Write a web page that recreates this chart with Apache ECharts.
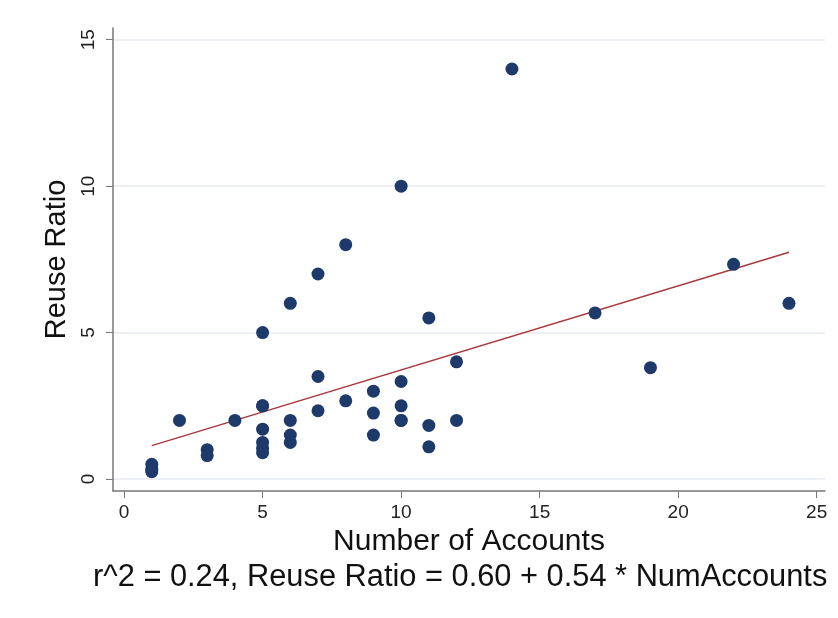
<!DOCTYPE html>
<html lang="en">
<head>
    <meta charset="UTF-8">
    <title>Reuse Ratio vs Number of Accounts</title>
    <script src="https://cdn.jsdelivr.net/npm/echarts@6/dist/echarts.min.js"></script>
    <style>
        html, body { margin: 0; padding: 0; background: #fff; }
        #chart { width: 838px; height: 618px; }
    </style>
</head>
<body>
    <div id="chart"></div>
<script>
    // scatter points
    var accounts = [1, 1, 1, 2, 3, 3, 4, 5, 5, 5, 5, 5, 5, 5, 6, 6, 6, 6, 7, 7, 7, 8, 8, 9, 9, 9, 10, 10, 10, 10, 10, 11, 11, 11, 12, 12, 14, 17, 19, 22, 24];
    var reuse = [0.5, 0.33, 0.25, 2, 1, 0.8, 2, 5, 2.5, 1.7, 1.25, 1.05, 0.9, 2.5, 6, 2, 1.5, 1.25, 7, 3.5, 2.33, 8, 2.67, 3, 2.25, 1.5, 10, 3.33, 2.5, 2, 2, 5.5, 1.83, 1.1, 4, 2, 14, 5.67, 3.8, 7.33, 6];
    // fitted line end points
    var fitX = [1, 24];
    var fitY = [1.14, 7.74];
    var xTicks = [0, 5, 10, 15, 20, 25];
    var yTicks = [0, 5, 10, 15];

    var pts = accounts.map(function (x, i) { return [x, reuse[i]]; });
    var line = fitX.map(function (x, i) { return [x, fitY[i]]; });

    var font = 'Liberation Sans, Arial, sans-serif';
    var option = {
        backgroundColor: '#ffffff',
        animation: false,
        grid: { left: 113, right: 13, top: 28, bottom: 127 },
        xAxis: {
            type: 'value',
            min: -0.4,
            max: 25.3,
            name: 'Number of Accounts',
            nameLocation: 'middle',
            nameGap: 22,
            nameTextStyle: { color: '#111', fontSize: 30, fontFamily: font },
            axisLine: { show: true, onZero: false, lineStyle: { color: '#777', width: 1.5 } },
            axisTick: { show: true, length: 7, customValues: xTicks, lineStyle: { color: '#777' } },
            axisLabel: { customValues: xTicks, color: '#222', fontSize: 19, fontFamily: font, margin: 12 },
            splitLine: { show: false }
        },
        yAxis: {
            type: 'value',
            min: -0.41,
            max: 15.4,
            name: 'Reuse Ratio',
            nameLocation: 'middle',
            nameGap: 27,
            nameTextStyle: { color: '#111', fontSize: 29, fontFamily: font },
            axisLine: { show: true, onZero: false, lineStyle: { color: '#777', width: 1.5 } },
            axisTick: { show: true, length: 7, customValues: yTicks, lineStyle: { color: '#777' } },
            axisLabel: { customValues: yTicks, rotate: 90, color: '#222', fontSize: 19, fontFamily: font, margin: 15 },
            splitLine: { show: true, lineStyle: { color: '#e6ebf2', width: 1.5 } }
        },
        graphic: [{
            type: 'text',
            left: 93,
            top: 562,
            style: {
                text: 'r^2 = 0.24, Reuse Ratio = 0.60 + 0.54 * NumAccounts',
                fill: '#111',
                fontSize: 30.8,
                fontFamily: font
            }
        }],
        series: [{
            type: 'scatter',
            data: pts,
            symbolSize: 13,
            itemStyle: { color: '#1d3a6b', opacity: 1 },
            z: 3
        }, {
            type: 'line',
            data: line,
            symbol: 'none',
            lineStyle: { color: '#a8383b', width: 1.5 },
            z: 2
        }]
    };

    var myChart = echarts.init(document.getElementById('chart'));
    myChart.setOption(option);
</script>
</body>
</html>
